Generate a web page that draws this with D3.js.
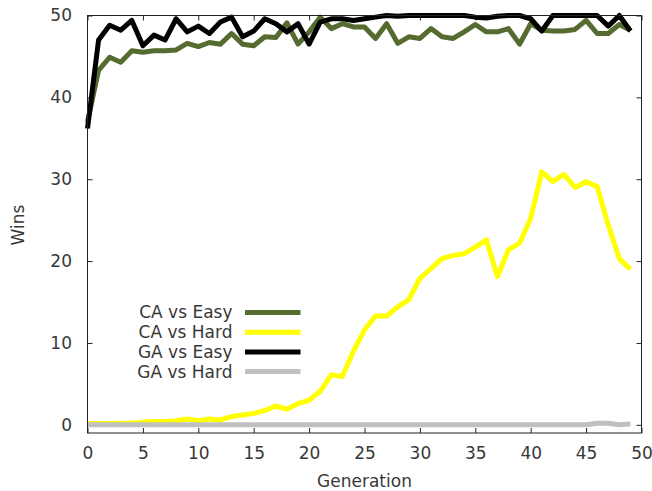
<!DOCTYPE html>
<html>
<head>
<meta charset="utf-8">
<script src="https://cdn.jsdelivr.net/npm/d3@7"></script>
<style>
  body { margin: 0; background: #fff; }
  svg { display: block; }
  text { font-family: "DejaVu Sans", sans-serif; }
</style>
</head>
<body>
<svg id="chart" width="652" height="491"></svg>
<script>
// data
var generations = d3.range(0, 50);
var caEasy = [37, 43.3, 44.9, 44.3, 45.7, 45.5, 45.7, 45.7, 45.8, 46.6,
              46.2, 46.7, 46.5, 47.8, 46.5, 46.3, 47.4, 47.3, 49.1, 46.5,
              48, 49.8, 48.4, 49, 48.6, 48.6, 47.2, 49, 46.6, 47.4,
              47.2, 48.4, 47.4, 47.2, 48, 48.9, 48, 48, 48.4, 46.5,
              49, 48.2, 48.1, 48.1, 48.3, 49.4, 47.8, 47.8, 48.9, 48.2];
var caHard = [0.15, 0.15, 0.15, 0.2, 0.2, 0.3, 0.4, 0.4, 0.5, 0.7,
              0.5, 0.7, 0.6, 1.0, 1.2, 1.4, 1.75, 2.3, 1.9, 2.6,
              3.0, 4.1, 6.1, 5.9, 9.0, 11.6, 13.3, 13.3, 14.4, 15.3,
              17.9, 19.1, 20.3, 20.7, 20.9, 21.7, 22.6, 18.1, 21.4, 22.2,
              25.2, 30.9, 29.7, 30.6, 29.0, 29.7, 29.1, 24.4, 20.3, 19.0];
var gaEasy = [36.2, 47, 48.8, 48.2, 49.4, 46.3, 47.6, 47, 49.6, 48,
              48.7, 47.8, 49.2, 49.8, 47.4, 48.1, 49.6, 49, 48, 49,
              46.5, 49.2, 49.6, 49.6, 49.4, 49.6, 49.8, 50, 49.9, 50,
              50, 50, 50, 50, 50, 49.8, 49.7, 49.9, 50, 50,
              49.6, 48.1, 50, 50, 50, 50, 50, 48.7, 50, 48.1];
var gaHard = [0, 0, 0, 0, 0, 0, 0, 0, 0, 0,
              0, 0, 0, 0, 0, 0, 0, 0, 0, 0,
              0, 0, 0, 0, 0, 0, 0, 0, 0, 0,
              0, 0, 0, 0, 0, 0, 0, 0, 0, 0,
              0, 0, 0, 0, 0, 0, 0.2, 0.2, 0, 0.1];
var seriesNames = ["CA vs Easy", "CA vs Hard", "GA vs Easy", "GA vs Hard"];
var xTicks = [0, 5, 10, 15, 20, 25, 30, 35, 40, 45, 50];
var yTicks = [0, 10, 20, 30, 40, 50];

var colors = ["#556b2f", "#ffff00", "#000000", "#c0c0c0"];
var series = [caEasy, caHard, gaEasy, gaHard];

var plotLeft = 87.5, plotRight = 641.5, plotTop = 15.5, plotBottom = 433;
var textColor = "#383838";

var svg = d3.select("#chart");

var x = d3.scaleLinear().domain([0, 50]).range([plotLeft, plotRight]);
var y = d3.scaleLinear().domain([-1, 50]).range([plotBottom, plotTop]);

// axes, ticks pointing inwards like gnuplot
svg.append("g")
    .attr("transform", `translate(0, ${plotBottom})`)
    .call(d3.axisBottom(x).tickValues(xTicks).tickSize(-5).tickPadding(14))
    .call(g => g.select(".domain").remove());

svg.append("g")
    .attr("transform", `translate(0, ${plotTop})`)
    .call(d3.axisTop(x).tickValues(xTicks).tickSize(-5).tickFormat(""))
    .call(g => g.select(".domain").remove());

svg.append("g")
    .attr("transform", `translate(${plotLeft}, 0)`)
    .call(d3.axisLeft(y).tickValues(yTicks).tickSize(-5).tickPadding(15.5))
    .call(g => g.select(".domain").remove());

svg.append("g")
    .attr("transform", `translate(${plotRight}, 0)`)
    .call(d3.axisRight(y).tickValues(yTicks).tickSize(-5).tickFormat(""))
    .call(g => g.select(".domain").remove());

svg.selectAll(".tick text")
    .attr("font-size", 17)
    .attr("font-family", "DejaVu Sans")
    .attr("fill", textColor);
svg.selectAll(".tick line").attr("stroke", "#222");

// lines
var line = d3.line()
    .x((d, i) => x(generations[i]))
    .y(d => y(d));

svg.append("g")
    .selectAll("path")
    .data(series)
    .join("path")
    .attr("d", d => line(d))
    .attr("fill", "none")
    .attr("stroke", (d, i) => colors[i])
    .attr("stroke-width", 5)
    .attr("stroke-linejoin", "round");

// border
svg.append("rect")
    .attr("x", plotLeft)
    .attr("y", plotTop)
    .attr("width", plotRight - plotLeft)
    .attr("height", plotBottom - plotTop)
    .attr("fill", "none")
    .attr("stroke", "#222")
    .attr("stroke-width", 1);

// legend
var legend = svg.append("g").attr("class", "legend");
seriesNames.forEach((name, i) => {
    var ly = 312.5 + i * 19.7;
    legend.append("text")
        .attr("x", 232.5)
        .attr("y", ly)
        .attr("dy", "0.35em")
        .attr("text-anchor", "end")
        .attr("font-size", 17)
        .attr("fill", textColor)
        .text(name);
    legend.append("line")
        .attr("x1", 245).attr("x2", 300.5)
        .attr("y1", ly).attr("y2", ly)
        .attr("stroke", colors[i])
        .attr("stroke-width", 5);
});

// axis titles
svg.append("text")
    .attr("x", (plotLeft + plotRight) / 2)
    .attr("y", 487)
    .attr("text-anchor", "middle")
    .attr("font-size", 17)
    .attr("fill", textColor)
    .text("Generation");

svg.append("text")
    .attr("transform", "translate(23.5, 225) rotate(-90)")
    .attr("text-anchor", "middle")
    .attr("font-size", 17)
    .attr("fill", textColor)
    .text("Wins");
</script>
</body>
</html>
